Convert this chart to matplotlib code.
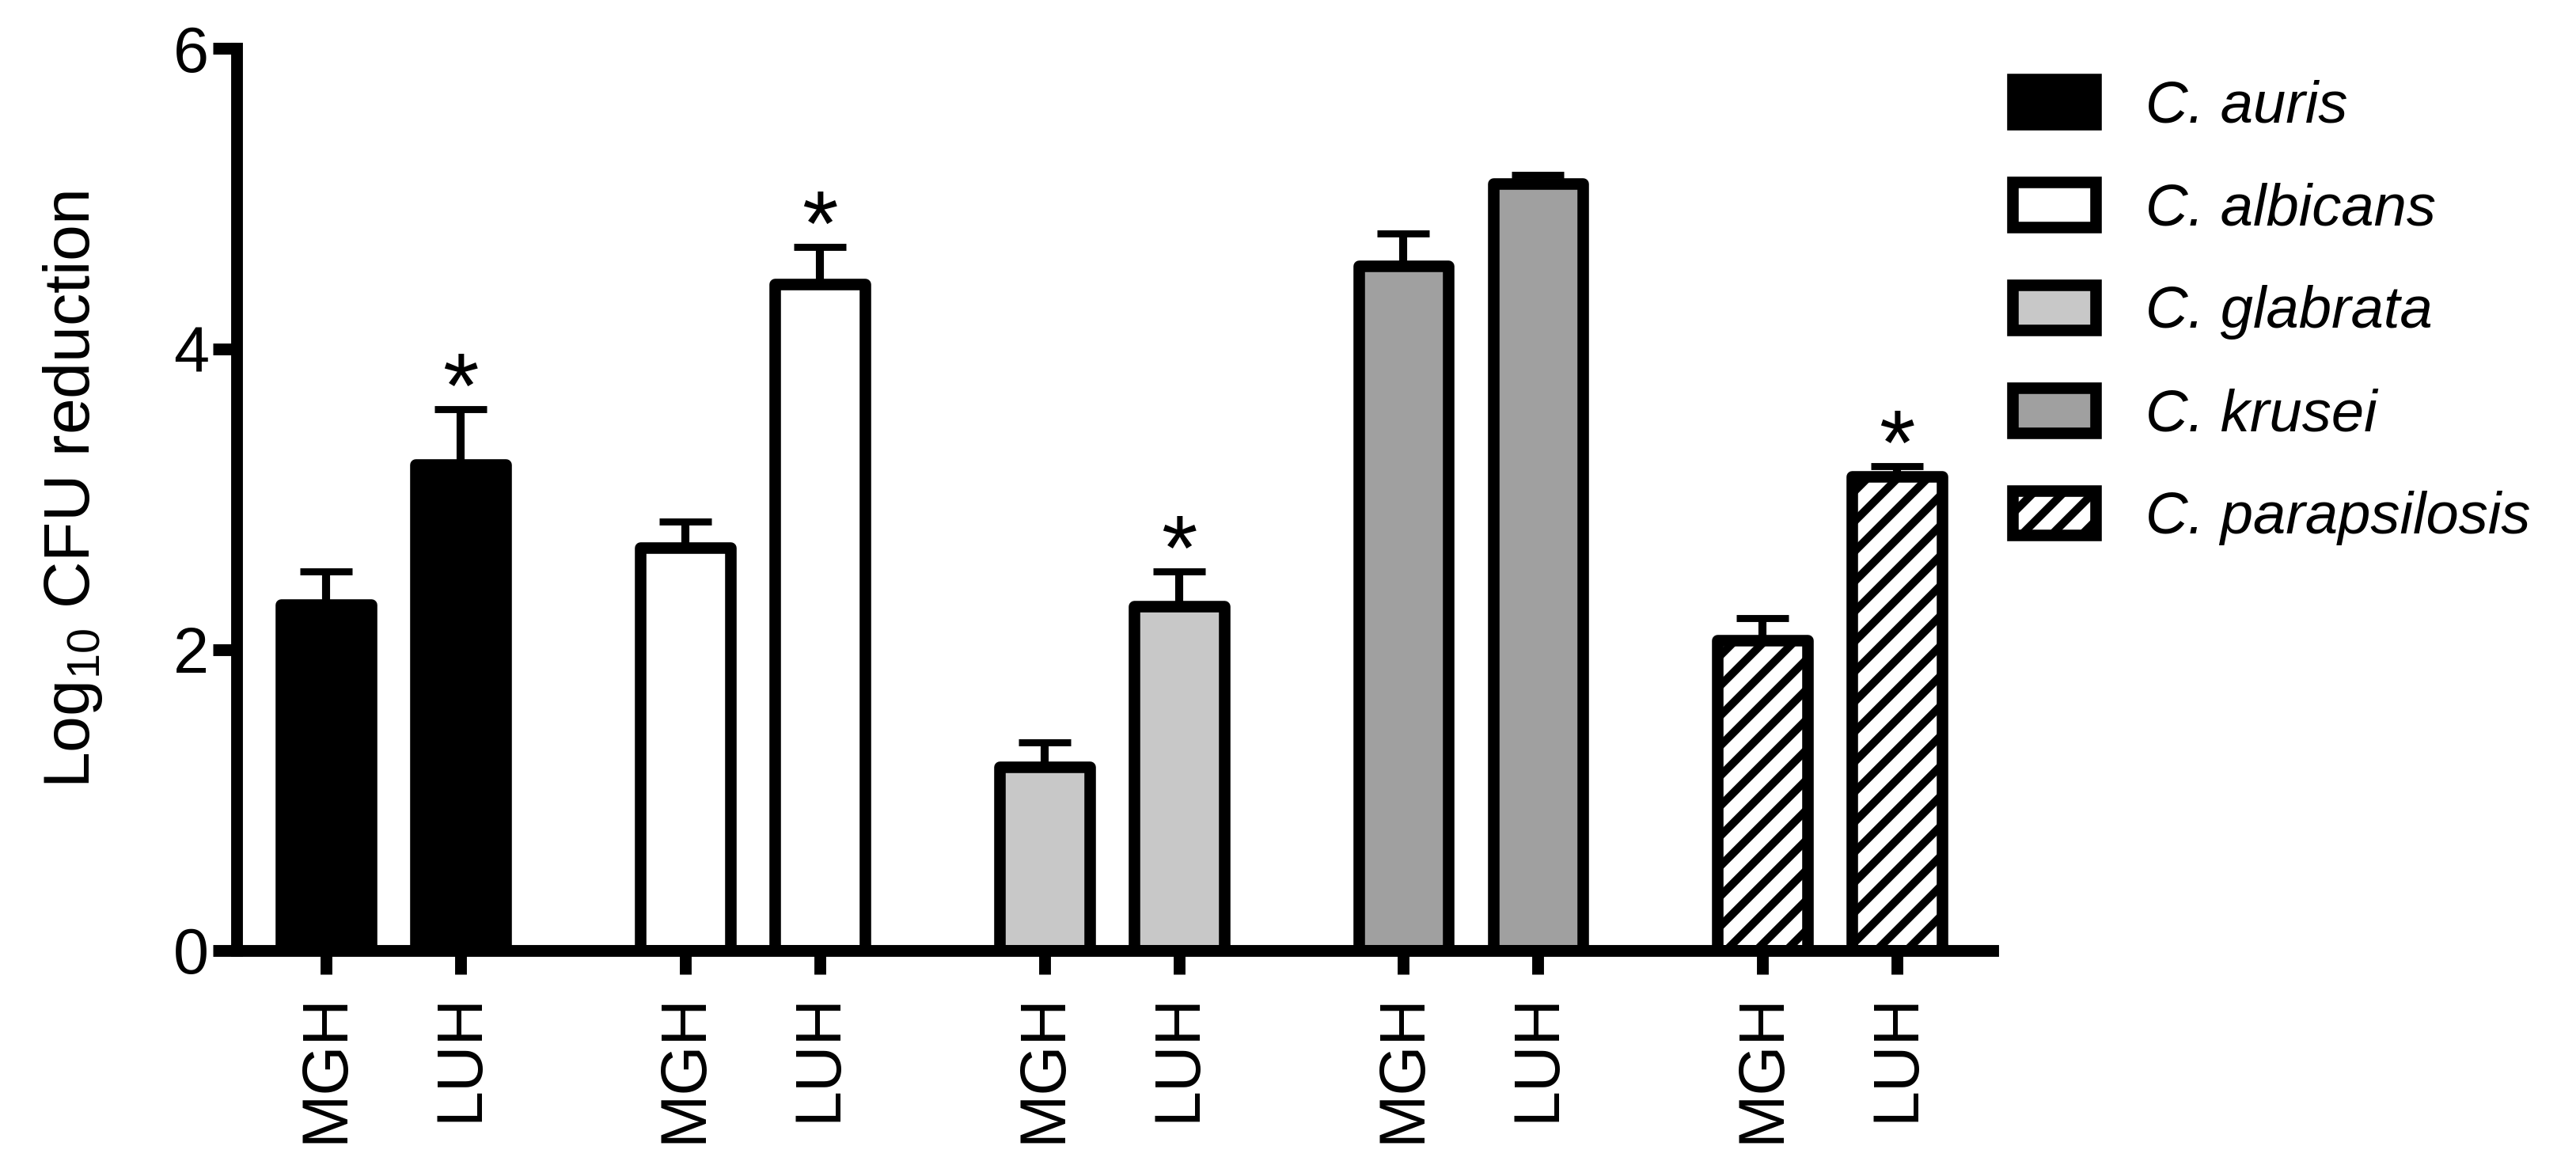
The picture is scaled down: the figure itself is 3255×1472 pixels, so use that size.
import numpy as np
import matplotlib
matplotlib.use('Agg')
import matplotlib.pyplot as plt

plt.rcParams['font.family'] = ['Liberation Sans', 'DejaVu Sans']
plt.rcParams['mathtext.fontset'] = 'custom'
plt.rcParams['mathtext.rm'] = 'Liberation Sans'
plt.rcParams['hatch.linewidth'] = 3.2

# ============================================================
# Data
# ============================================================
species   = ['C. auris', 'C. albicans', 'C. glabrata', 'C. krusei', 'C. parapsilosis']
hospitals = ['MGH', 'LUH']
mgh       = [2.30, 2.68, 1.22, 4.55, 2.06]
mgh_err   = [0.22, 0.17, 0.16, 0.22, 0.15]
luh       = [3.23, 4.43, 2.29, 5.10, 3.15]
luh_err   = [0.37, 0.25, 0.23, 0.06, 0.07]
luh_sig   = [True, True, True, False, True]

colors  = ['black', 'white', '#c8c8c8', '#a0a0a0', 'white']
hatches = [None, None, None, None, '//']

# ============================================================
# Figure
# ============================================================
DPI = 228
fig = plt.figure(figsize=(3255 / DPI, 1472 / DPI), dpi=DPI)
ax  = fig.add_axes([0.09186, 0.18444, 0.6817, 0.7741])

stride = 2.67
width  = 0.67
edge   = 4.6

tick_pos    = []
tick_labels = []
for i, sp in enumerate(species):
    x0 = i * stride
    xs = [x0, x0 + 1]
    vals = [mgh[i], luh[i]]
    errs = [mgh_err[i], luh_err[i]]
    ax.bar(xs, vals, width=width, color=colors[i], edgecolor='black',
           linewidth=edge, hatch=hatches[i], label=sp, zorder=2,
           joinstyle='round')
    ax.errorbar(xs, vals, yerr=[[0, 0], errs], fmt='none', ecolor='black',
                elinewidth=3.2, capsize=10.4, capthick=2.8, zorder=1)
    if luh_sig[i]:
        ax.annotate('*', (x0 + 1, luh[i] + luh_err[i]), xytext=(0, -3.5),
                    textcoords='offset points', ha='center', va='baseline',
                    fontsize=37)
    tick_pos    += xs
    tick_labels += hospitals

ax.set_xlim(-0.665, 12.39)
ax.set_ylim(0, 6)
ax.set_yticks([0, 2, 4, 6])
ax.set_xticks(tick_pos)
ax.set_xticklabels(tick_labels, rotation=90)

for side in ['top', 'right']:
    ax.spines[side].set_visible(False)
for side in ['left', 'bottom']:
    ax.spines[side].set_linewidth(4.7)
    ax.spines[side].set_capstyle('projecting')

ax.tick_params(axis='both', length=9.5, width=4.7, labelsize=25.6, color='black')
ax.tick_params(axis='y', pad=1.6)
ax.tick_params(axis='x', pad=7.6)

fig.text(92 / 3255, 1 - 618 / 1472, r'Log$_{\mathregular{10}}$ CFU reduction',
         rotation=90, ha='center', va='center', fontsize=26)

ax.legend(loc='upper left', bbox_to_anchor=(0.7814, 0.9318),
          bbox_transform=fig.transFigure, frameon=False, borderpad=0,
          borderaxespad=0, handlelength=1.415, handleheight=0.8,
          handletextpad=0.85, labelspacing=0.82,
          prop={'size': 23.4, 'style': 'italic'})

fig.savefig('out.png', dpi=DPI, facecolor='white')
